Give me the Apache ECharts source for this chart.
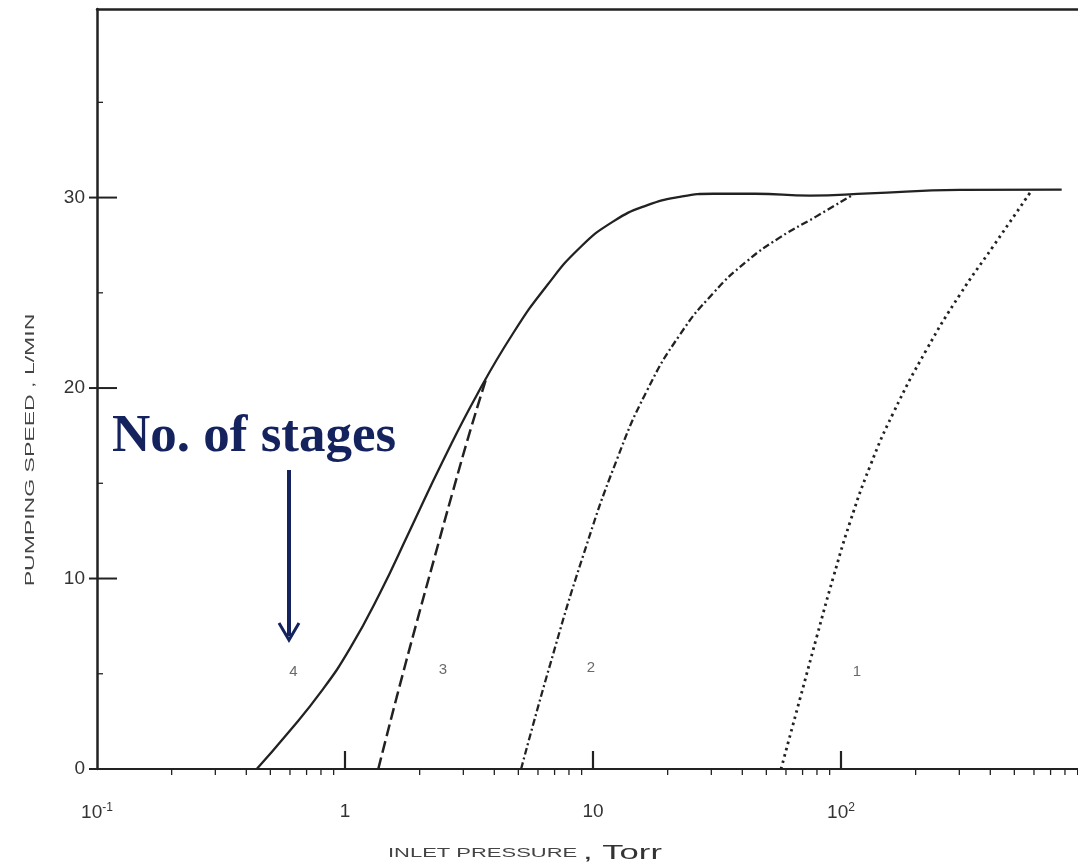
<!DOCTYPE html>
<html>
<head>
<meta charset="utf-8">
<script src="https://cdn.jsdelivr.net/npm/echarts@6/dist/echarts.min.js"></script>
<style>
html,body{margin:0;padding:0;background:#fff;}
#chart{width:1078px;height:867px;}
</style>
</head>
<body>
<div id="chart"></div>
<script>
// ---- data (inlet pressure in Torr, pumping speed in L/min) ----
const stage4 = [[0.4406,0],[0.5818,1.81],[0.8054,4.10],[1.0476,6.33],[1.384,9.24],[1.828,12.54],[2.484,16.18],[3.406,19.65],[4.77,22.89],[6.51,25.37],[8.87,27.38],[12.08,28.75],[16.47,29.59],[22.43,30.04],[30.56,30.2],[45,30.2],[75,30.1],[130,30.22],[300,30.4],[776,30.42]];
const stage3 = [[1.362,0],[1.616,3.77],[1.946,7.70],[2.307,11.2],[2.726,14.6],[3.192,17.72],[3.737,20.62]];
const stage2 = [[5.13,0],[6.71,5.47],[9.12,11.19],[12.46,16.22],[16.47,19.84],[22.43,22.81],[30.48,24.97],[41.68,26.65],[56.75,27.91],[79.3,29.0],[111.7,30.15]];
const stage1 = [[57.3,0],[68.36,3.69],[79.8,6.93],[93.1,10.06],[108.7,12.95],[130.9,15.89],[162.6,18.7],[221.6,22.03],[301.8,24.91],[411.3,27.45],[587.5,30.38]];

const curveLabelText = ['4','3','2','1'];
const curveLabelX = [0.62, 2.48, 9.8, 116];
const curveLabelY = [5.1, 5.2, 5.3, 5.1];

const xTickValues = [0.1, 1, 10, 100];
const xTickLabels = ['{b|10}{s|-1}', '1', '10', '{b|10}{s|2}'];
const xMajorTicks = [1, 10, 100];
const xMinorTicks = [0.2,0.3,0.4,0.5,0.6,0.7,0.8,0.9,2,3,4,5,6,7,8,9,20,30,40,50,60,70,80,90,200,300,400,500,600,700,800,900];
const yTickValues = [0, 10, 20, 30];
const yMinorTicks = [5, 15, 25, 35];

const xMin = 0.1, xMax = 903, yMin = 0, yMax = 39.9;

// ---- chart ----
const chart = echarts.init(document.getElementById('chart'));
const ink = '#222';
const navy = '#14225e';

function tickSeries(data, dx1, dy1, dx2, dy2, lw) {
  return {
    type: 'custom', silent: true, clip: false, z: 5,
    data: data,
    renderItem: function (params, api) {
      const p = api.coord([api.value(0), api.value(1)]);
      return {type: 'line', shape: {x1: p[0] + dx1, y1: p[1] + dy1, x2: p[0] + dx2, y2: p[1] + dy2},
              style: {stroke: ink, lineWidth: lw}};
    }
  };
}

function lineSeries(data, dash, width) {
  return {
    type: 'line', data: data, smooth: 0.5, showSymbol: false, silent: true,
    lineStyle: {color: ink, width: width, type: dash}
  };
}

const labelData = curveLabelText.map((t, i) => ({value: [curveLabelX[i], curveLabelY[i]], name: t}));

chart.setOption({
  animation: false,
  backgroundColor: '#fff',
  grid: {left: 97, right: 0, top: 9, bottom: 98},
  xAxis: [{
    type: 'log', logBase: 10, min: xMin, max: xMax,
    axisLine: {lineStyle: {color: ink, width: 2}},
    axisTick: {show: false},
    splitLine: {show: false},
    axisLabel: {
      showMaxLabel: false, margin: 33, color: '#333', fontFamily: 'Liberation Sans', fontSize: 19,
      formatter: function (v) {
        for (let i = 0; i < xTickValues.length; i++) {
          if (Math.abs(Math.log10(v) - Math.log10(xTickValues[i])) < 1e-6) return xTickLabels[i];
        }
        return '';
      },
      rich: {
        b: {fontFamily: 'Liberation Sans', fontSize: 19, color: '#333'},
        s: {fontFamily: 'Liberation Sans', fontSize: 12, color: '#333', verticalAlign: 'top', padding: [0, 0, 10, 0]}
      }
    }
  }, {
    type: 'value', position: 'top', min: 0, max: 1,
    axisLine: {show: true, lineStyle: {color: ink, width: 2.5}},
    axisTick: {show: false}, axisLabel: {show: false}, splitLine: {show: false}
  }],
  yAxis: {
    type: 'value', min: yMin, max: yMax, interval: 10,
    axisLine: {lineStyle: {color: ink, width: 2.5}},
    axisTick: {show: false},
    splitLine: {show: false},
    axisLabel: {
      showMaxLabel: false, margin: 12, color: '#333', fontFamily: 'Liberation Sans', fontSize: 19,
      formatter: function (v) { return yTickValues.indexOf(v) >= 0 ? String(v) : ''; }
    }
  },
  series: [
    lineSeries(stage4, 'solid', 2.3),
    lineSeries(stage3, [12, 5], 2.5),
    lineSeries(stage2, [7, 3, 2, 3], 2.3),
    lineSeries(stage1, [2.5, 4], 2.8),
    tickSeries(xMajorTicks.map(v => [v, 0]), 0, 0, 0, -18, 2.2),
    tickSeries(xMinorTicks.map(v => [v, 0]), 0, 0, 0, 6, 1.3),
    tickSeries(yTickValues.map(v => [xMin, v]), -8, 0, 20, 0, 2),
    tickSeries(yMinorTicks.map(v => [xMin, v]), 0, 0, 6, 0, 1.3),
    {
      type: 'scatter', data: labelData, symbolSize: 0, silent: true,
      label: {show: true, position: 'inside', formatter: '{b}', color: '#444',
              fontFamily: 'Liberation Sans', fontSize: 15}
    }
  ],
  graphic: [
    {type: 'text', x: 388, y: 860, scaleX: 1.83, style: {
      text: 'INLET PRESSURE', fontFamily: 'Liberation Sans', fontSize: 12, fill: '#444',
      align: 'left', verticalAlign: 'bottom'}},
    {type: 'text', x: 583, y: 864, scaleX: 1.65, style: {
      text: ', Torr', fontFamily: 'Liberation Sans', fontSize: 21, fill: '#333',
      align: 'left', verticalAlign: 'bottom'}},
    {type: 'text', x: 31, y: 450, rotation: Math.PI / 2, scaleX: 1.92, style: {
      text: 'PUMPING SPEED , L/MIN', fontFamily: 'Liberation Sans', fontSize: 12, fill: '#444',
      align: 'center', verticalAlign: 'middle'}},
    {type: 'text', left: 112, top: 411, style: {
      text: 'No. of stages', fontFamily: 'Liberation Serif', fontWeight: 'bold', fontSize: 53, fill: navy}},
    {type: 'line', shape: {x1: 289, y1: 470, x2: 289, y2: 636}, style: {stroke: navy, lineWidth: 4}},
    {type: 'polyline', shape: {points: [[279, 623], [289, 640], [299, 623]]}, style: {stroke: navy, lineWidth: 3, fill: null}}
  ]
});
</script>
</body>
</html>
